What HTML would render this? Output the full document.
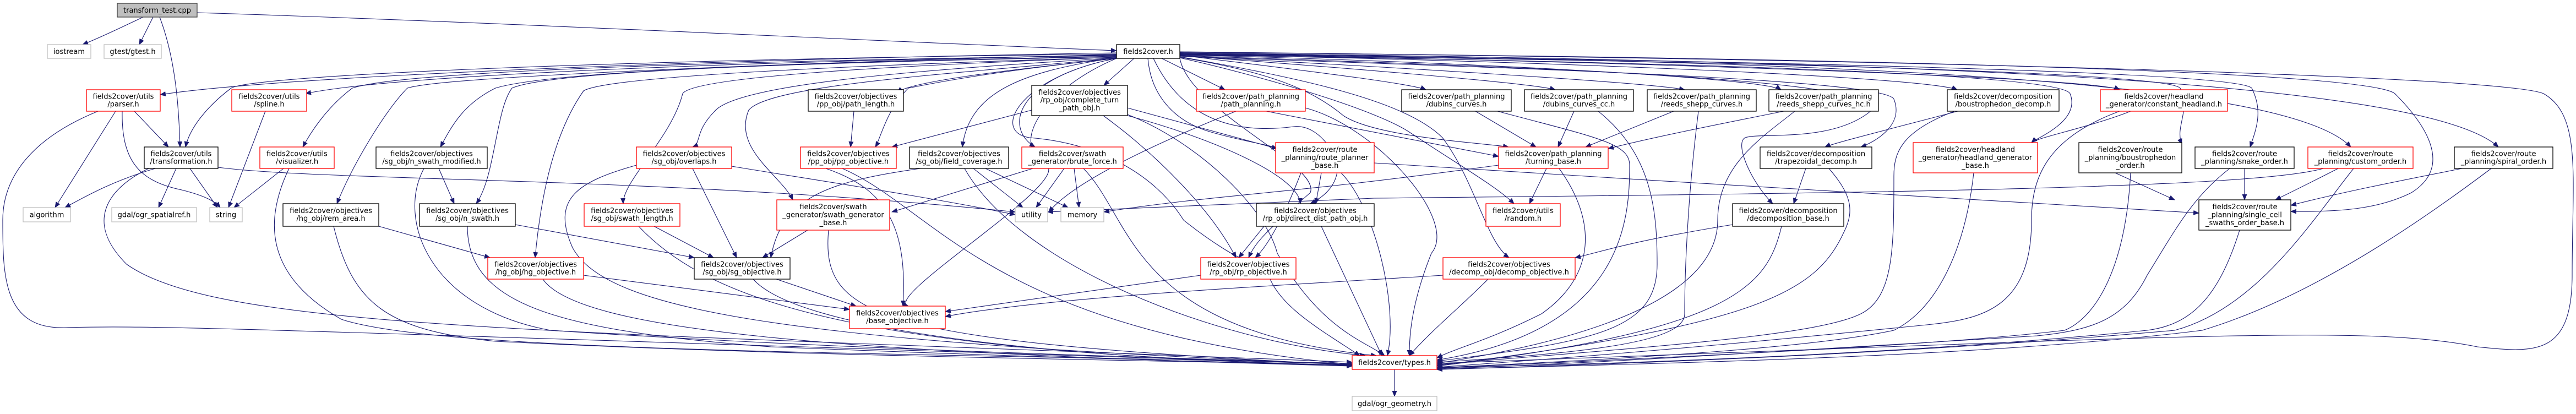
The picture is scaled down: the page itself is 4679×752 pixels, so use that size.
<!DOCTYPE html>
<html><head><meta charset="utf-8"><style>
html,body{margin:0;padding:0;background:#fff;}
svg{display:block;}
text{font-family:"DejaVu Sans","Liberation Sans",sans-serif;font-size:13px;fill:#000;text-anchor:middle;}
.e{fill:none;stroke:#191970;stroke-width:1.1;marker-end:url(#a);}
.n{fill:#fff;stroke:#000;stroke-width:1.3;}
.r{fill:#fff;stroke:#ff0000;stroke-width:1.3;}
.g{fill:#fff;stroke:#bfbfbf;stroke-width:1.3;}
</style></head><body>
<svg width="4679" height="752" viewBox="0 0 4679 752" xmlns="http://www.w3.org/2000/svg">
<defs><marker id="a" markerWidth="11" markerHeight="9" refX="10" refY="4.5" orient="auto" markerUnits="userSpaceOnUse"><path d="M0,0 L11,4.5 L0,9z" fill="#191970"/></marker></defs>
<g>
<!-- transform_test edges -->
<path class="e" d="M260 31 C230 45,190 65,150 81"/>
<path class="e" d="M278 31 L253 81"/>
<path class="e" d="M290 31 C320 110,325 200,327 267"/>
<path class="e" d="M358 23 C900 40,1600 75,2028 92"/>
<!-- fields2cover.h fan left -->
<path class="e" d="M2028 96 C1200 110,500 140,291 172"/>
<path class="e" d="M2028 98 C1000 110,450 140,420 160 C380 190,345 230,337 267"/>
<path class="e" d="M2028 100 C1200 115,700 140,555 170"/>
<path class="e" d="M2028 101 C1000 115,700 140,640 160 C600 190,570 230,550 267"/>
<path class="e" d="M2028 102 C1400 115,1000 130,900 160 C840 190,820 230,800 267"/>
<path class="e" d="M2028 103 C1400 115,1000 130,930 160 C900 200,900 320,865 370"/>
<path class="e" d="M2028 99 C1400 115,800 140,740 160 C700 200,640 300,612 370"/>
<path class="e" d="M2028 104 C1500 120,1100 140,1060 165 C1000 250,980 380,972 468"/>
<path class="e" d="M2028 104 C1600 120,1260 140,1240 170 C1220 250,1130 330,1132 370"/>
<path class="e" d="M2028 105 C1700 125,1350 150,1300 200 C1260 240,1275 260,1258 267"/>
<path class="e" d="M2028 106 C1800 130,1650 150,1630 168"/>
<path class="e" d="M2028 106 C1800 130,1700 150,1650 160 C1610 200,1600 250,1590 267"/>
<path class="e" d="M2028 105 C1800 130,1400 150,1360 200 C1330 270,1420 320,1440 363"/>
<path class="e" d="M2028 105 C1850 130,1760 170,1748 267"/>
<path class="e" d="M2028 106 C1850 140,1820 230,1880 267"/>
<path class="e" d="M2060 106 L2005 155"/>
<path class="e" d="M2028 106 C1850 140,1800 240,1870 250 C2000 260,2100 320,2150 400 C2200 440,2250 470,2255 468"/>
<path class="e" d="M2028 106 C1900 160,1830 260,1900 300 C1950 330,1600 540,1650 556"/>
<!-- fields2cover.h fan right -->
<path class="e" d="M2110 106 L2225 163"/>
<path class="e" d="M2085 106 C2090 170,2130 220,2200 240 C2270 260,2320 265,2317 270"/>
<path class="e" d="M2095 106 C2130 180,2200 250,2350 230 C2400 225,2430 290,2430 300 C2430 340,2400 360,2380 370"/>
<path class="e" d="M2143 100 C2300 120,2560 150,2590 163"/>
<path class="e" d="M2143 101 C2400 120,2780 150,2825 163"/>
<path class="e" d="M2143 102 C2500 120,3000 150,3060 163"/>
<path class="e" d="M2143 100 C2600 110,3200 140,3235 163"/>
<path class="e" d="M2143 99 C2800 110,3500 140,3555 163"/>
<path class="e" d="M2143 98 C2900 110,3800 140,3850 163"/>
<path class="e" d="M2143 104 C2300 130,2380 160,2440 210 C2500 250,2700 260,2740 267"/>
<path class="e" d="M2143 105 C2300 140,2500 200,2560 240 C2650 300,2720 340,2750 370"/>
<path class="e" d="M2143 103 C2350 140,2550 180,2620 250 C2680 330,2700 440,2741 468"/>
<path class="e" d="M2143 102 C2600 120,3420 140,3440 180 C3460 230,3400 260,3380 267"/>
<path class="e" d="M2143 101 C2700 120,3430 140,3400 200 C3330 260,3200 240,3170 250 C3150 260,3180 330,3220 370"/>
<path class="e" d="M2143 100 C2900 110,3740 130,3760 170 C3780 220,3700 250,3690 259"/>
<path class="e" d="M2143 99 C3100 110,3930 130,3960 160 C3980 200,3950 230,3963 262"/>
<path class="e" d="M2143 98 C3200 110,4060 130,4090 160 C4110 200,4100 230,4087 267"/>
<path class="e" d="M2143 97 C3300 110,4150 140,4270 267"/>
<path class="e" d="M2143 96 C3400 110,4400 140,4538 267"/>
<path class="e" d="M2143 95 C3400 105,4300 130,4350 170 C4400 220,4460 300,4380 350 C4320 380,4250 385,4161 384"/>
<path class="e" d="M2143 94 C3600 110,4550 140,4620 170 C4690 210,4672 320,4672 500 C4672 650,4600 640,4500 630 C4300 590,4000 610,2610 660"/>
<path class="e" d="M2143 106 C2160 200,2400 300,2380 350 C2300 420,2280 440,2268 468"/>
<!-- lower structure -->
<path class="e" d="M210 202 L100 377"/>
<path class="e" d="M222 202 C220 300,260 330,330 345 C370 355,390 365,400 377"/>
<path class="e" d="M244 202 L306 267"/>
<path class="e" d="M178 202 C60 250,5 320,5 400 C5 500,5 600,120 595 C300 590,500 600,2456 662"/>
<path class="e" d="M482 202 L415 377"/>
<path class="e" d="M282 306 C200 330,150 360,118 377"/>
<path class="e" d="M320 306 L288 377"/>
<path class="e" d="M345 306 L395 377"/>
<path class="e" d="M270 306 C200 340,150 400,230 480 C400 600,1000 600,2456 658"/>
<path class="e" d="M396 304 C600 330,1200 320,1844 385"/>
<path class="e" d="M515 306 L425 377"/>
<path class="e" d="M525 306 C480 400,480 500,620 580 C800 640,1600 640,2456 660"/>
<path class="e" d="M797 306 L825 370"/>
<path class="e" d="M770 306 C720 400,780 560,1000 600 C1600 640,2200 650,2456 662"/>
<path class="e" d="M688 411 L890 468"/>
<path class="e" d="M606 411 C640 550,700 600,900 620 C1500 650,2200 655,2456 664"/>
<path class="e" d="M936 408 L1261 468"/>
<path class="e" d="M849 411 C849 550,1000 600,1400 630 C1900 650,2300 660,2456 663"/>
<path class="e" d="M1156 300 C1050 330,1000 360,1040 450 C1100 560,1400 620,2456 662"/>
<path class="e" d="M1258 306 L1338 468"/>
<path class="e" d="M1329 302 C1500 330,1700 360,1844 390"/>
<path class="e" d="M1188 411 L1296 468"/>
<path class="e" d="M1160 411 C1300 560,1600 640,2456 664"/>
<path class="e" d="M1060 500 L1543 562"/>
<path class="e" d="M986 507 C1050 600,1500 640,2456 665"/>
<path class="e" d="M1410 507 L1555 556"/>
<path class="e" d="M1368 507 C1450 600,1900 650,2456 664"/>
<path class="e" d="M1467 418 L1385 468"/>
<path class="e" d="M1505 418 C1490 580,1600 620,2456 663"/>
<path class="e" d="M1551 202 L1545 267"/>
<path class="e" d="M1500 306 C1600 340,1650 400,1640 556"/>
<path class="e" d="M1530 306 C1700 380,1800 600,2456 662"/>
<path class="e" d="M1672 306 C1500 330,1420 360,1400 468"/>
<path class="e" d="M1768 306 L1858 377"/>
<path class="e" d="M1790 306 L1940 377"/>
<path class="e" d="M1752 306 C1850 480,2200 620,2480 646"/>
<path class="e" d="M1876 306 L1620 385"/>
<path class="e" d="M1933 306 L1882 377"/>
<path class="e" d="M1951 306 L1960 377"/>
<path class="e" d="M1968 306 C2060 400,2050 600,2500 646"/>
<path class="e" d="M1874 200 L1620 267"/>
<path class="e" d="M2004 210 C2100 280,2200 380,2245 468"/>
<path class="e" d="M2048 210 C2200 250,2360 320,2362 370"/>
<path class="e" d="M2048 208 C2180 260,2300 380,2320 460 C2400 600,2480 620,2515 646"/>
<path class="e" d="M2048 196 L2320 270"/>
<path class="e" d="M2245 202 C2100 260,1950 330,1905 385"/>
<path class="e" d="M2300 202 L2722 284"/>
<path class="e" d="M2371 196 C2500 230,2650 400,2600 460 C2560 560,2560 620,2560 646"/>
<path class="e" d="M2400 314 L2390 370"/>
<path class="e" d="M2436 314 C2500 380,2540 560,2520 646"/>
<path class="e" d="M2496 296 C3000 330,3600 360,3994 387"/>
<path class="e" d="M2363 314 C2330 400,2300 450,2280 468"/>
<path class="e" d="M2296 411 L2250 468"/>
<path class="e" d="M2400 411 L2510 646"/>
<path class="e" d="M2181 500 L1717 566"/>
<path class="e" d="M2307 507 C2330 560,2400 600,2470 646"/>
<path class="e" d="M2809 306 L2778 370"/>
<path class="e" d="M2832 306 C2900 400,2900 500,2800 570 C2700 620,2650 630,2610 650"/>
<path class="e" d="M2722 300 C2500 330,2400 340,2300 350 C2200 360,2100 370,2005 385"/>
<path class="e" d="M2680 202 L2790 267"/>
<path class="e" d="M2720 202 C2900 250,2960 260,2960 300 C2960 400,2950 600,2610 654"/>
<path class="e" d="M2859 202 L2830 267"/>
<path class="e" d="M2903 202 C3000 280,3010 380,3010 480 C3010 600,2900 620,2610 656"/>
<path class="e" d="M3040 202 L2880 267"/>
<path class="e" d="M3085 202 C3060 400,3060 550,3060 570 C3060 620,2900 640,2610 658"/>
<path class="e" d="M3240 202 C3100 230,3000 250,2921 270"/>
<path class="e" d="M3260 202 C3200 250,3120 300,3120 400 C3120 500,3000 600,2610 660"/>
<path class="e" d="M3556 202 C3450 230,3330 260,3315 267"/>
<path class="e" d="M3550 202 C3450 240,3440 280,3440 320 C3440 450,3440 540,3380 570 C3300 610,3000 630,2610 662"/>
<path class="e" d="M3280 306 L3258 370"/>
<path class="e" d="M3322 306 C3360 350,3370 380,3350 420 C3300 530,3200 590,2610 664"/>
<path class="e" d="M3147 408 C2950 440,2900 460,2861 468"/>
<path class="e" d="M3236 411 C3210 520,3150 600,2610 665"/>
<path class="e" d="M2703 507 C2650 560,2600 600,2560 646"/>
<path class="e" d="M2621 500 C2300 520,1900 540,1717 575"/>
<path class="e" d="M3870 202 C3800 230,3700 250,3690 259"/>
<path class="e" d="M3850 202 C3720 250,3690 320,3690 400 C3690 560,3600 580,3500 590 C3300 610,3000 640,2610 667"/>
<path class="e" d="M3585 314 C3570 450,3520 560,3440 600 C3300 630,3000 650,2610 668"/>
<path class="e" d="M3842 314 L3950 363"/>
<path class="e" d="M3870 314 C3860 500,3800 580,3750 600 C3500 630,3000 650,2610 669"/>
<path class="e" d="M4077 306 L4077 363"/>
<path class="e" d="M4050 306 C3980 360,3950 420,3900 500 C3860 580,3800 600,3700 610 C3200 640,2900 660,2610 670"/>
<path class="e" d="M4247 306 C4200 330,4180 340,4133 363"/>
<path class="e" d="M4220 306 C4100 340,3500 350,2496 360 C2300 370,2100 375,1903 385"/>
<path class="e" d="M4275 306 C4200 400,4100 560,3950 600 C3500 640,3000 660,2610 671"/>
<path class="e" d="M4472 306 C4350 330,4250 350,4161 373"/>
<path class="e" d="M4525 306 C4400 400,4200 540,4000 600 C3600 650,3000 660,2610 671"/>
<path class="e" d="M4068 418 C4030 540,3980 590,3900 600 C3500 640,3000 660,2610 668"/>
<path class="e" d="M2533 671 L2533 720"/>
</g>
<!-- nodes -->
<rect x="213" y="6" width="145" height="25" fill="#bfbfbf" stroke="#404040" stroke-width="1.3"/><text x="285.5" y="23">transform_test.cpp</text>
<rect class="g" x="86" y="81" width="79" height="25"/><text x="125.5" y="98">iostream</text>
<rect class="g" x="189" y="81" width="104" height="25"/><text x="241" y="98">gtest/gtest.h</text>
<rect class="n" x="2028" y="81" width="115" height="25"/><text x="2085.5" y="98">fields2cover.h</text>

<rect class="r" x="157" y="163" width="134" height="39"/><text x="224" y="179.5">fields2cover/utils</text><text x="224" y="193.5">/parser.h</text>
<rect class="r" x="421" y="163" width="136" height="39"/><text x="489" y="179.5">fields2cover/utils</text><text x="489" y="193.5">/spline.h</text>
<rect class="n" x="1468" y="163" width="173" height="39"/><text x="1554.5" y="179.5">fields2cover/objectives</text><text x="1554.5" y="193.5">/pp_obj/path_length.h</text>
<rect class="n" x="1874" y="155" width="174" height="55"/><text x="1961" y="172">fields2cover/objectives</text><text x="1961" y="186">/rp_obj/complete_turn</text><text x="1961" y="200.5">_path_obj.h</text>
<rect class="r" x="2173" y="163" width="198" height="39"/><text x="2272" y="179.5">fields2cover/path_planning</text><text x="2272" y="193.5">/path_planning.h</text>
<rect class="n" x="2546" y="163" width="199" height="39"/><text x="2645.5" y="179.5">fields2cover/path_planning</text><text x="2645.5" y="193.5">/dubins_curves.h</text>
<rect class="n" x="2769" y="163" width="198" height="39"/><text x="2868" y="179.5">fields2cover/path_planning</text><text x="2868" y="193.5">/dubins_curves_cc.h</text>
<rect class="n" x="2992" y="163" width="198" height="39"/><text x="3091" y="179.5">fields2cover/path_planning</text><text x="3091" y="193.5">/reeds_shepp_curves.h</text>
<rect class="n" x="3213" y="163" width="199" height="39"/><text x="3312.5" y="179.5">fields2cover/path_planning</text><text x="3312.5" y="193.5">/reeds_shepp_curves_hc.h</text>
<rect class="n" x="3537" y="163" width="203" height="39"/><text x="3638.5" y="179.5">fields2cover/decomposition</text><text x="3638.5" y="193.5">/boustrophedon_decomp.h</text>
<rect class="r" x="3815" y="163" width="231" height="39"/><text x="3930.5" y="179.5">fields2cover/headland</text><text x="3930.5" y="193.5">_generator/constant_headland.h</text>

<rect class="n" x="262" y="267" width="134" height="39"/><text x="329" y="283.5">fields2cover/utils</text><text x="329" y="297.5">/transformation.h</text>
<rect class="r" x="472" y="267" width="135" height="39"/><text x="539.5" y="283.5">fields2cover/utils</text><text x="539.5" y="297.5">/visualizer.h</text>
<rect class="n" x="683" y="267" width="202" height="39"/><text x="784" y="283.5">fields2cover/objectives</text><text x="784" y="297.5">/sg_obj/n_swath_modified.h</text>
<rect class="r" x="1156" y="267" width="173" height="39"/><text x="1242.5" y="283.5">fields2cover/objectives</text><text x="1242.5" y="297.5">/sg_obj/overlaps.h</text>
<rect class="r" x="1454" y="267" width="174" height="39"/><text x="1541" y="283.5">fields2cover/objectives</text><text x="1541" y="297.5">/pp_obj/pp_objective.h</text>
<rect class="n" x="1652" y="267" width="180" height="39"/><text x="1742" y="283.5">fields2cover/objectives</text><text x="1742" y="297.5">/sg_obj/field_coverage.h</text>
<rect class="r" x="1856" y="267" width="184" height="39"/><text x="1948" y="283.5">fields2cover/swath</text><text x="1948" y="297.5">_generator/brute_force.h</text>
<rect class="r" x="2317" y="259" width="179" height="55"/><text x="2406.5" y="276">fields2cover/route</text><text x="2406.5" y="290.5">_planning/route_planner</text><text x="2406.5" y="305">_base.h</text>
<rect class="r" x="2722" y="267" width="199" height="39"/><text x="2821.5" y="283.5">fields2cover/path_planning</text><text x="2821.5" y="297.5">/turning_base.h</text>
<rect class="n" x="3197" y="267" width="203" height="39"/><text x="3298.5" y="283.5">fields2cover/decomposition</text><text x="3298.5" y="297.5">/trapezoidal_decomp.h</text>
<rect class="r" x="3475" y="259" width="226" height="55"/><text x="3588" y="276">fields2cover/headland</text><text x="3588" y="290.5">_generator/headland_generator</text><text x="3588" y="305">_base.h</text>
<rect class="n" x="3776" y="259" width="187" height="55"/><text x="3869.5" y="276">fields2cover/route</text><text x="3869.5" y="290.5">_planning/boustrophedon</text><text x="3869.5" y="305">_order.h</text>
<rect class="n" x="3987" y="267" width="180" height="39"/><text x="4077" y="283.5">fields2cover/route</text><text x="4077" y="297.5">_planning/snake_order.h</text>
<rect class="r" x="4192" y="267" width="191" height="39"/><text x="4287.5" y="283.5">fields2cover/route</text><text x="4287.5" y="297.5">_planning/custom_order.h</text>
<rect class="n" x="4458" y="267" width="179" height="39"/><text x="4547.5" y="283.5">fields2cover/route</text><text x="4547.5" y="297.5">_planning/spiral_order.h</text>

<rect class="g" x="42" y="377" width="86" height="26"/><text x="85" y="394.5">algorithm</text>
<rect class="g" x="203" y="377" width="154" height="26"/><text x="280" y="394.5">gdal/ogr_spatialref.h</text>
<rect class="g" x="381" y="377" width="59" height="26"/><text x="410.5" y="394.5">string</text>
<rect class="g" x="1844" y="377" width="59" height="26"/><text x="1873.5" y="394.5">utility</text>
<rect class="g" x="1927" y="377" width="78" height="26"/><text x="1966" y="394.5">memory</text>
<rect class="n" x="514" y="370" width="174" height="41"/><text x="601" y="387">fields2cover/objectives</text><text x="601" y="401">/hg_obj/rem_area.h</text>
<rect class="n" x="762" y="370" width="174" height="41"/><text x="849" y="387">fields2cover/objectives</text><text x="849" y="401">/sg_obj/n_swath.h</text>
<rect class="r" x="1061" y="370" width="174" height="41"/><text x="1148" y="387">fields2cover/objectives</text><text x="1148" y="401">/sg_obj/swath_length.h</text>
<rect class="r" x="1411" y="363" width="205" height="55"/><text x="1513.5" y="380">fields2cover/swath</text><text x="1513.5" y="394.5">_generator/swath_generator</text><text x="1513.5" y="409">_base.h</text>
<rect class="n" x="2282" y="370" width="214" height="41"/><text x="2389" y="387">fields2cover/objectives</text><text x="2389" y="401">/rp_obj/direct_dist_path_obj.h</text>
<rect class="r" x="2699" y="370" width="135" height="41"/><text x="2766.5" y="387">fields2cover/utils</text><text x="2766.5" y="401">/random.h</text>
<rect class="n" x="3147" y="370" width="202" height="41"/><text x="3248" y="387">fields2cover/decomposition</text><text x="3248" y="401">/decomposition_base.h</text>
<rect class="n" x="3994" y="363" width="167" height="55"/><text x="4077.5" y="380">fields2cover/route</text><text x="4077.5" y="394.5">_planning/single_cell</text><text x="4077.5" y="409">_swaths_order_base.h</text>

<rect class="r" x="886" y="468" width="174" height="39"/><text x="973" y="484.5">fields2cover/objectives</text><text x="973" y="498.5">/hg_obj/hg_objective.h</text>
<rect class="n" x="1261" y="468" width="174" height="39"/><text x="1348" y="484.5">fields2cover/objectives</text><text x="1348" y="498.5">/sg_obj/sg_objective.h</text>
<rect class="r" x="2181" y="468" width="173" height="39"/><text x="2267.5" y="484.5">fields2cover/objectives</text><text x="2267.5" y="498.5">/rp_obj/rp_objective.h</text>
<rect class="r" x="2621" y="468" width="240" height="39"/><text x="2741" y="484.5">fields2cover/objectives</text><text x="2741" y="498.5">/decomp_obj/decomp_objective.h</text>
<rect class="r" x="1543" y="556" width="174" height="41"/><text x="1630" y="573">fields2cover/objectives</text><text x="1630" y="587">/base_objective.h</text>
<rect class="r" x="2456" y="646" width="154" height="25"/><text x="2533" y="663">fields2cover/types.h</text>
<rect class="g" x="2456" y="720" width="154" height="26"/><text x="2533" y="737.5">gdal/ogr_geometry.h</text>
</svg>
</body></html>
